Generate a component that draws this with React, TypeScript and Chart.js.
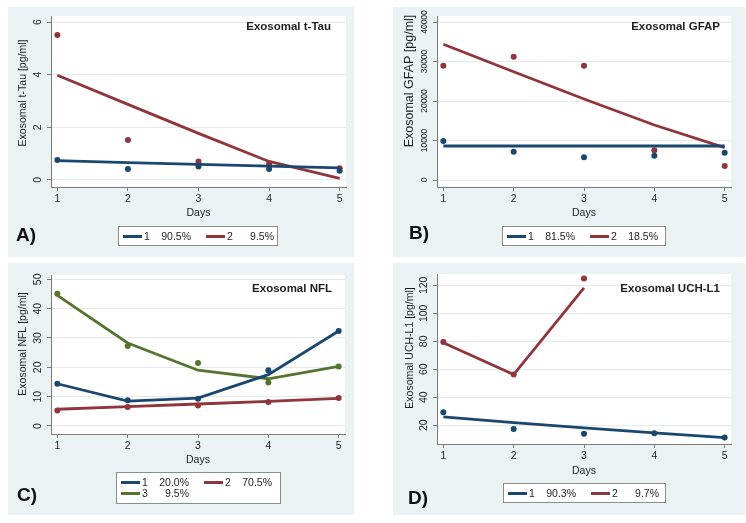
import React, { useEffect, useRef } from "react";
import { Chart, registerables } from "chart.js";

Chart.register(...registerables);

// ---------- data ----------
const days = [1, 2, 3, 4, 5];
const daysShort = [1, 2, 3];
const dayTicks = [1, 2, 3, 4, 5];

// A) Exosomal t-Tau
const tauObs1 = [0.76, 0.41, 0.51, 0.41, 0.35];
const tauFit1 = [0.73, 0.66, 0.59, 0.52, 0.46];
const tauObs2 = [5.51, 1.52, 0.7, 0.6, 0.44];
const tauFit2 = [3.98, 2.87, 1.77, 0.7, 0.06];
const tauTicks = [0, 2, 4, 6];
const tauGroups = ["1", "2"];
const tauShares = ["90.5%", "9.5%"];

// B) Exosomal GFAP
const gfapObs1 = [9870, 7170, 5740, 6150, 6920];
const gfapFit1 = [8610, 8610, 8610, 8610, 8610];
const gfapObs2 = [28940, 31220, 28940, 7520, 3550];
const gfapFit2 = [34360, 27420, 20510, 13930, 8180];
const gfapTicks = [0, 10000, 20000, 30000, 40000];
const gfapGroups = ["1", "2"];
const gfapShares = ["81.5%", "18.5%"];

// C) Exosomal NFL
const nflObs1 = [14.4, 8.75, 9.3, 19.0, 32.4];
const nflFit1 = [14.4, 8.5, 9.5, 17.5, 32.4];
const nflObs2 = [5.3, 6.5, 7.0, 8.2, 9.5];
const nflFit2 = [5.7, 6.6, 7.5, 8.4, 9.4];
const nflObs3 = [45.1, 27.3, 21.5, 14.8, 20.3];
const nflFit3 = [44.5, 28.3, 19.0, 16.1, 20.3];
const nflTicks = [0, 10, 20, 30, 40, 50];
const nflGroups = ["1", "2", "3"];
const nflShares = ["20.0%", "70.5%", "9.5%"];

// D) Exosomal UCH-L1
const uchObs1 = [29.3, 17.4, 14.0, 14.3, 11.2];
const uchFit1 = [26.0, 21.9, 18.1, 14.5, 11.2];
const uchObs2 = [79.5, 56.2, 124.8];
const uchFit2 = [79.0, 56.2, 118.1];
const uchTicks = [20, 40, 60, 80, 100, 120];
const uchGroups = ["1", "2"];
const uchShares = ["90.3%", "9.7%"];

// ---------- style ----------
const FONT = 'Arial, "Liberation Sans", Helvetica, sans-serif';
const TEXT = "#1e1e1e";
const AXIS = "#7a7a7a";
const GRID = "#e2eaec";
const PANEL_BG = "#eaf2f3";
const BLUE = "#1a476f";
const RED = "#90353b";
const GREEN = "#55752f";

type Series = { xs: number[]; obs: number[]; fit: number[]; color: string };
type LegendItem = { color: string; group: string; share: string; col: number; row: number };
type Panel = {
  key: string;
  x: number; y: number; w: number; h: number;
  area: { l: number; t: number; r: number; b: number };
  yMin: number; yMax: number; yTicks: number[]; yTickSize: number;
  yTitle: string; yTitleX: number; yTitleY: number; yTitleSize: number; daysPad: number;
  title: string; titleRight: number; titleY: number;
  series: Series[];
  legend: { x: number; y: number; w: number; h: number; items: LegendItem[] };
  letter: { x: number; y: number; text: string };
};

const panels: Panel[] = [
  {
    key: "A", x: 8, y: 7, w: 346, h: 250,
    area: { l: 43, t: 9, r: 338, b: 180 },
    yMin: -0.27, yMax: 6.23, yTicks: tauTicks, yTickSize: 10.5,
    yTitle: "Exosomal t-Tau [pg/ml]", yTitleX: 15, yTitleY: 86, yTitleSize: 10.5, daysPad: 37.7,
    title: "Exosomal t-Tau", titleRight: 323, titleY: 20,
    series: [
      { xs: days, obs: tauObs1, fit: tauFit1, color: BLUE },
      { xs: days, obs: tauObs2, fit: tauFit2, color: RED },
    ],
    legend: {
      x: 110, y: 219, w: 160, h: 20,
      items: [
        { color: BLUE, group: tauGroups[0], share: tauShares[0], col: 0, row: 0 },
        { color: RED, group: tauGroups[1], share: tauShares[1], col: 1, row: 0 },
      ],
    },
    letter: { x: 8, y: 217.5, text: "A)" },
  },
  {
    key: "B", x: 393, y: 7, w: 352, h: 250,
    area: { l: 44, t: 9, r: 338, b: 180 },
    yMin: -1772, yMax: 41519, yTicks: gfapTicks, yTickSize: 8.5,
    yTitle: "Exosomal GFAP [pg/ml]", yTitleX: 17, yTitleY: 74, yTitleSize: 12.5, daysPad: 37.7,
    title: "Exosomal GFAP", titleRight: 327, titleY: 20,
    series: [
      { xs: days, obs: gfapObs1, fit: gfapFit1, color: BLUE },
      { xs: days, obs: gfapObs2, fit: gfapFit2, color: RED },
    ],
    legend: {
      x: 109, y: 219, w: 164, h: 20,
      items: [
        { color: BLUE, group: gfapGroups[0], share: gfapShares[0], col: 0, row: 0 },
        { color: RED, group: gfapGroups[1], share: gfapShares[1], col: 1, row: 0 },
      ],
    },
    letter: { x: 16, y: 216, text: "B)" },
  },
  {
    key: "C", x: 8, y: 263, w: 346, h: 252,
    area: { l: 43, t: 12, r: 337, b: 171 },
    yMin: -2.73, yMax: 51.47, yTicks: nflTicks, yTickSize: 10.5,
    yTitle: "Exosomal NFL [pg/ml]", yTitleX: 15, yTitleY: 81, yTitleSize: 10.5, daysPad: 48.7,
    title: "Exosomal NFL", titleRight: 324, titleY: 26,
    series: [
      { xs: days, obs: nflObs1, fit: nflFit1, color: BLUE },
      { xs: days, obs: nflObs2, fit: nflFit2, color: RED },
      { xs: days, obs: nflObs3, fit: nflFit3, color: GREEN },
    ],
    legend: {
      x: 108, y: 209, w: 165, h: 32,
      items: [
        { color: BLUE, group: nflGroups[0], share: nflShares[0], col: 0, row: 0 },
        { color: RED, group: nflGroups[1], share: nflShares[1], col: 1, row: 0 },
        { color: GREEN, group: nflGroups[2], share: nflShares[2], col: 0, row: 1 },
      ],
    },
    letter: { x: 9, y: 222, text: "C)" },
  },
  {
    key: "D", x: 393, y: 263, w: 352, h: 252,
    area: { l: 44, t: 11, r: 338, b: 181 },
    yMin: 6.6, yMax: 128.1, yTicks: uchTicks, yTickSize: 10.5,
    yTitle: "Exosomal UCH-L1 [pg/ml]", yTitleX: 17, yTitleY: 85, yTitleSize: 10.5, daysPad: 37.7,
    title: "Exosomal UCH-L1", titleRight: 327, titleY: 26,
    series: [
      { xs: days, obs: uchObs1, fit: uchFit1, color: BLUE },
      { xs: daysShort, obs: uchObs2, fit: uchFit2, color: RED },
    ],
    legend: {
      x: 110, y: 220, w: 163, h: 20,
      items: [
        { color: BLUE, group: uchGroups[0], share: uchShares[0], col: 0, row: 0 },
        { color: RED, group: uchGroups[1], share: uchShares[1], col: 1, row: 0 },
      ],
    },
    letter: { x: 15, y: 224.7, text: "D)" },
  },
];

// ---------- plugin ----------
const panelPlugin = {
  id: "panelDeco",
  beforeDraw(chart: any) {
    const { ctx, chartArea: a, width, height } = chart;
    ctx.save();
    ctx.fillStyle = PANEL_BG;
    ctx.fillRect(0, 0, width, height);
    ctx.fillStyle = "#ffffff";
    ctx.fillRect(a.left, a.top, a.right - a.left, a.bottom - a.top);
    ctx.restore();
  },
  afterDraw(chart: any, _args: any, opts: any) {
    const { ctx, chartArea: a } = chart;
    const ys = chart.scales.y;
    ctx.save();
    ctx.fillStyle = TEXT;
    ctx.textAlign = "center";
    ctx.textBaseline = "middle";
    // rotated y tick labels (Stata style)
    ctx.font = `${opts.yTickSize}px ${FONT}`;
    for (const t of ys.ticks) {
      const py = ys.getPixelForValue(t.value);
      ctx.save();
      ctx.translate(a.left - 12.5, py);
      ctx.rotate(-Math.PI / 2);
      ctx.fillText(String(t.value), 0, 0);
      ctx.restore();
    }
    // y axis title
    ctx.font = `${opts.yTitleSize}px ${FONT}`;
    ctx.save();
    ctx.translate(opts.yTitleX, opts.yTitleY);
    ctx.rotate(-Math.PI / 2);
    ctx.fillText(opts.yTitle, 0, 0);
    ctx.restore();
    // in-plot title
    ctx.font = `bold 11.5px ${FONT}`;
    ctx.textAlign = "right";
    ctx.fillText(opts.title, opts.titleRight, opts.titleY);
    ctx.restore();
  },
};

function PanelChart({ p }: { p: Panel }) {
  const ref = useRef<HTMLCanvasElement>(null);
  useEffect(() => {
    if (!ref.current) return;
    const datasets: any[] = [];
    p.series.forEach((s) => {
      datasets.push({
        data: s.xs.map((x, i) => ({ x, y: s.fit[i] })),
        borderColor: s.color,
        backgroundColor: s.color,
        borderWidth: 2.8,
        pointRadius: 0,
        tension: 0,
        fill: false,
      });
      datasets.push({
        data: s.xs.map((x, i) => ({ x, y: s.obs[i] })),
        showLine: false,
        pointRadius: 3,
        pointBorderWidth: 0,
        pointBackgroundColor: s.color,
        borderColor: s.color,
        backgroundColor: s.color,
      });
    });
    const chart = new Chart(ref.current, {
      type: "line",
      data: { datasets },
      options: {
        responsive: false,
        animation: false,
        devicePixelRatio: 1,
        layout: { padding: { left: 0, top: p.area.t, right: p.w - p.area.r, bottom: 0 } },
        plugins: {
          legend: { display: false },
          tooltip: { enabled: false },
          panelDeco: {
            title: p.title,
            titleRight: p.titleRight,
            titleY: p.titleY,
            yTitle: p.yTitle,
            yTitleX: p.yTitleX,
            yTitleY: p.yTitleY,
            yTitleSize: p.yTitleSize,
            yTickSize: p.yTickSize,
          },
        } as any,
        scales: {
          x: {
            type: "linear",
            min: 0.91,
            max: 5.09,
            afterBuildTicks: (s: any) => {
              s.ticks = dayTicks.map((v) => ({ value: v }));
            },
            afterFit: (s: any) => {
              s.height = p.h - p.area.b;
            },
            grid: { drawOnChartArea: false, tickLength: 4, tickColor: AXIS, tickWidth: 1 },
            border: { color: AXIS, width: 1 },
            ticks: {
              font: { size: 10.5, family: FONT },
              color: TEXT,
              padding: 1.5,
              maxRotation: 0,
              autoSkip: false,
              callback: (v: any) => String(v),
            },
            title: {
              display: true,
              text: "Days",
              font: { size: 10.5, family: FONT },
              color: TEXT,
              padding: { top: 0, bottom: p.daysPad },
            },
          },
          y: {
            type: "linear",
            min: p.yMin,
            max: p.yMax,
            afterBuildTicks: (s: any) => {
              s.ticks = p.yTicks.map((v) => ({ value: v }));
            },
            afterFit: (s: any) => {
              s.width = p.area.l;
            },
            grid: { color: GRID, lineWidth: 1, tickLength: 4, tickColor: AXIS },
            border: { color: AXIS, width: 1 },
            ticks: { display: false },
            title: { display: false },
          },
        },
      },
      plugins: [panelPlugin as any],
    });
    return () => chart.destroy();
  }, [p]);
  return (
    <canvas
      ref={ref}
      width={p.w}
      height={p.h}
      style={{ position: "absolute", left: 0, top: 0, width: p.w, height: p.h }}
    />
  );
}

const COL_X = [5, 88];

function LegendBox({ p }: { p: Panel }) {
  const L = p.legend;
  return (
    <div
      style={{
        position: "absolute",
        left: L.x,
        top: L.y,
        width: L.w,
        height: L.h,
        background: "#fff",
        border: "1px solid #8c8c8c",
        boxSizing: "border-box",
        fontFamily: FONT,
        fontSize: 10.5,
        color: TEXT,
      }}
    >
      {L.items.map((it, i) => {
        const cx = COL_X[it.col] - 1;
        const cy = 10 + it.row * 11 - 1;
        return (
          <React.Fragment key={i}>
            <div
              style={{
                position: "absolute",
                left: cx,
                top: cy - 1.5,
                width: 19,
                height: 3,
                background: it.color,
              }}
            />
            <span style={{ position: "absolute", left: cx + 21, top: cy - 7, lineHeight: "14px", whiteSpace: "nowrap" }}>
              {it.group}
            </span>
            <span
              style={{
                position: "absolute",
                left: cx + 28,
                width: 40,
                textAlign: "right",
                top: cy - 7,
                lineHeight: "14px",
                whiteSpace: "nowrap",
              }}
            >
              {it.share}
            </span>
          </React.Fragment>
        );
      })}
    </div>
  );
}

export default function App() {
  return (
    <div
      style={{
        position: "absolute",
        left: 0,
        top: 0,
        width: 746,
        height: 523,
        background: "#fff",
        overflow: "hidden",
      }}
    >
      {panels.map((p) => (
        <div
          key={p.key}
          style={{ position: "absolute", left: p.x, top: p.y, width: p.w, height: p.h, background: PANEL_BG }}
        >
          <PanelChart p={p} />
          <LegendBox p={p} />
          <div
            style={{
              position: "absolute",
              left: p.letter.x,
              top: p.letter.y,
              fontFamily: FONT,
              fontWeight: "bold",
              fontSize: 19,
              lineHeight: "19px",
              color: "#111",
              whiteSpace: "nowrap",
            }}
          >
            {p.letter.text}
          </div>
        </div>
      ))}
    </div>
  );
}
